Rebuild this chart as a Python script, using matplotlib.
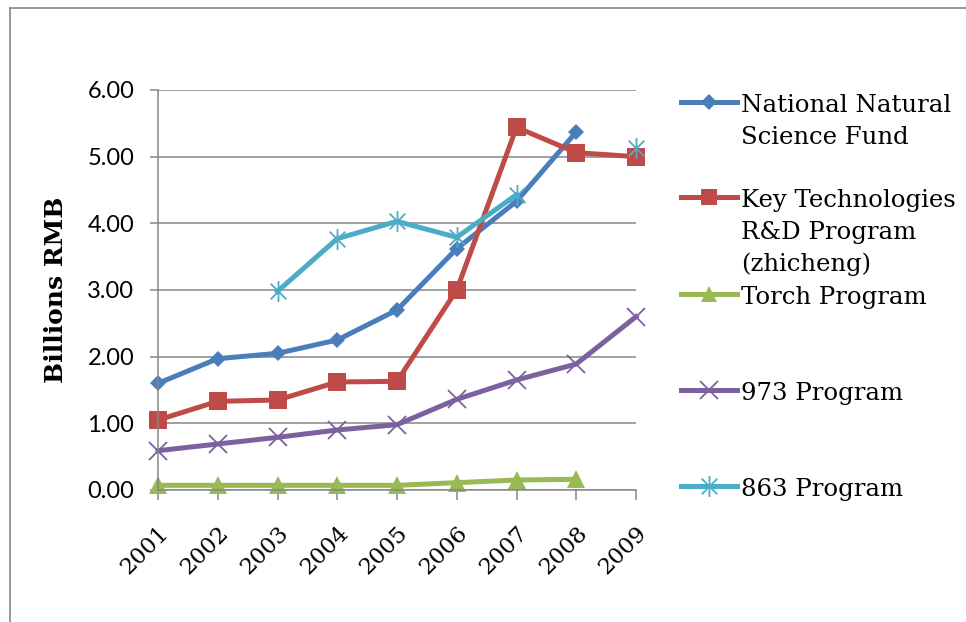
import numpy as np
import matplotlib
matplotlib.use("Agg")
import matplotlib.pyplot as plt
from matplotlib.lines import Line2D
from matplotlib.path import Path

years = ["2001", "2002", "2003", "2004", "2005", "2006", "2007", "2008", "2009"]
nan = np.nan
nsf = [1.60, 1.97, 2.05, 2.25, 2.70, 3.62, 4.33, 5.37, nan]
key_tech = [1.05, 1.33, 1.35, 1.62, 1.63, 3.00, 5.44, 5.06, 5.00]
torch = [0.07, 0.07, 0.07, 0.07, 0.07, 0.11, 0.15, 0.16, nan]
p973 = [0.59, 0.69, 0.79, 0.90, 0.98, 1.36, 1.65, 1.89, 2.60]
p863 = [nan, nan, 2.98, 3.77, 4.03, 3.79, 4.43, nan, 5.13]
labels = ["National Natural\nScience Fund",
          "Key Technologies\nR&D Program\n(zhicheng)",
          "Torch Program",
          "973 Program",
          "863 Program"]

W, H = 966, 622
grey = "#868686"

# asterisk marker like excel's (x with a vertical bar)
star = Path([(0, -1), (0, 1), (-0.75, -0.75), (0.75, 0.75), (-0.75, 0.75), (0.75, -0.75)],
            [Path.MOVETO, Path.LINETO, Path.MOVETO, Path.LINETO, Path.MOVETO, Path.LINETO])

styles = [
    dict(color="#4A7EBB", marker="D", ms=8.5, mfc="#4A7EBB", mew=0),
    dict(color="#BE4B48", marker="s", ms=13, mfc="#BE4B48", mew=0),
    dict(color="#98B954", marker="^", ms=13, mfc="#98B954", mew=0),
    dict(color="#7D60A0", marker="x", ms=13, mew=1.3),
    dict(color="#4BACC6", marker=star, ms=15, mfc="none", mew=1.3),
]
series = [nsf, key_tech, torch, p973, p863]

fig = plt.figure(figsize=(W / 100, H / 100), dpi=100)
ax = fig.add_axes([158 / W, 1 - 490 / H, (636 - 158) / W, (490 - 90) / H])

x = np.arange(len(years))
for vals, st in zip(series, styles):
    ax.plot(x, vals, lw=3.6, solid_joinstyle="round", clip_on=False, **st)

ax.set_xlim(0, 8)
ax.set_ylim(0, 6)
ax.set_yticks(np.arange(0, 7, 1))
ax.set_yticklabels(["%.2f" % v for v in np.arange(0, 7, 1)])
ax.set_xticks(x)
ax.set_xticklabels(years)
ax.grid(axis="y", color=grey, lw=1.1)
ax.set_axisbelow(True)
for s in ["top", "right"]:
    ax.spines[s].set_visible(False)
for s in ["left", "bottom"]:
    ax.spines[s].set_color(grey)
    ax.spines[s].set_linewidth(1.1)
ax.tick_params(axis="y", length=6, width=1.1, color=grey, pad=11)
ax.tick_params(axis="x", length=7, width=1.1, color=grey, pad=16)

for t in ax.get_yticklabels():
    t.set_fontfamily("Lato")
    t.set_fontsize(17)
for t in ax.get_xticklabels():
    t.set_fontfamily("DejaVu Serif")
    t.set_fontsize(16.5)
    t.set_rotation(45)
    t.set_ha("right")
    t.set_va("top")
    t.set_rotation_mode("anchor")

ax.set_ylabel("Billions RMB", fontsize=18, family="DejaVu Serif", fontweight="bold", labelpad=14)

# outer chart frame (left and top only visible)
fig.add_artist(Line2D([10 / W, 10 / W], [0, 1 - 8 / H], transform=fig.transFigure, color=grey, lw=1.2))
fig.add_artist(Line2D([10 / W, 1], [1 - 8 / H, 1 - 8 / H], transform=fig.transFigure, color=grey, lw=1.2))

# legend drawn by hand so multi-line labels line up like excel
leg_y = [102, 197, 294, 390, 486]
for lab, st, yy in zip(labels, styles, leg_y):
    fy = 1 - yy / H
    fig.add_artist(Line2D([681 / W, 737 / W], [fy, fy], transform=fig.transFigure,
                          lw=3.6, color=st["color"]))
    mk = dict(st)
    mk.pop("color")
    if mk["marker"] != "x" and mk["marker"] is not star:
        mk["ms"] = mk["ms"] * 0.9
    fig.add_artist(Line2D([709 / W], [fy], transform=fig.transFigure, color=st["color"], **mk))
    for i, line in enumerate(lab.split("\n")):
        fig.text(741 / W, 1 - (yy + 10 + i * 32) / H, line, fontsize=17.6, family="DejaVu Serif",
                 va="baseline", ha="left")

fig.savefig("out.png", dpi=100)
